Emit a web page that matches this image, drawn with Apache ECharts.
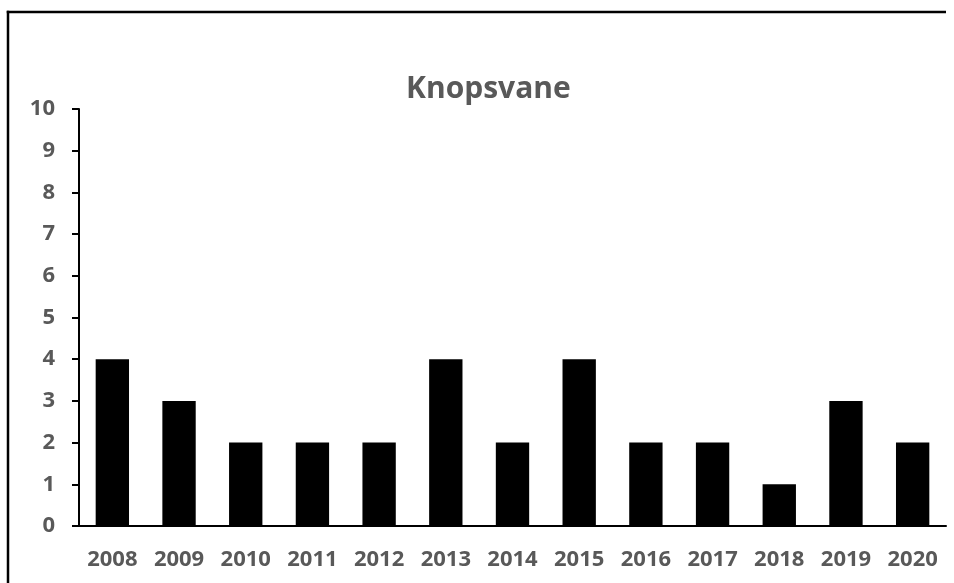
<!DOCTYPE html>
<html>
<head>
<meta charset="utf-8">
<title>Knopsvane</title>
<script src="https://cdn.jsdelivr.net/npm/echarts@6/dist/echarts.min.js"></script>
<style>
  html, body { margin: 0; padding: 0; background: #ffffff; overflow: hidden; }
  #chart { width: 954px; height: 583px; }
</style>
</head>
<body>
<div id="chart"></div>
<script>
// Yearly counts for Knopsvane
const years = ['2008', '2009', '2010', '2011', '2012', '2013', '2014', '2015', '2016', '2017', '2018', '2019', '2020'];
const counts = [4, 3, 2, 2, 2, 4, 2, 4, 2, 2, 1, 3, 2];
const yTicks = { min: 0, max: 10, interval: 1 };

const textGray = '#595959';
const labelFont = { fontFamily: 'Open Sans', fontWeight: 'bold', fontSize: 22, color: textGray };

const chart = echarts.init(document.getElementById('chart'), null, { renderer: 'canvas' });
chart.setOption({
  animation: false,
  backgroundColor: '#ffffff',
  title: {
    text: 'Knopsvane',
    left: 401,
    top: 69,
    textStyle: { fontFamily: 'Open Sans', fontWeight: 'bold', fontSize: 30, color: textGray }
  },
  graphic: [
    {
      // top edge of the frame
      type: 'line',
      shape: { x1: 6.75, y1: 12, x2: 946, y2: 12 },
      style: { stroke: '#000000', lineWidth: 2.5 },
      silent: true
    },
    {
      // left edge of the frame
      type: 'line',
      shape: { x1: 8, y1: 10.75, x2: 8, y2: 583 },
      style: { stroke: '#000000', lineWidth: 2.5 },
      silent: true
    }
  ],
  grid: { left: 79, right: 8, top: 109, bottom: 57, containLabel: false },
  xAxis: {
    type: 'category',
    data: years,
    axisLine: { lineStyle: { color: '#000000', width: 2 } },
    axisTick: { show: false },
    axisLabel: Object.assign({ margin: 23 }, labelFont),
    splitLine: { show: false }
  },
  yAxis: {
    type: 'value',
    min: yTicks.min,
    max: yTicks.max,
    interval: yTicks.interval,
    axisLine: { show: true, lineStyle: { color: '#000000', width: 2 } },
    axisTick: { show: true, length: 7, lineStyle: { color: '#000000', width: 2 } },
    axisLabel: Object.assign({ margin: 24 }, labelFont),
    splitLine: { show: false }
  },
  series: [{
    type: 'bar',
    data: counts,
    barWidth: '50%',
    itemStyle: { color: '#000000' }
  }]
});
</script>
</body>
</html>
